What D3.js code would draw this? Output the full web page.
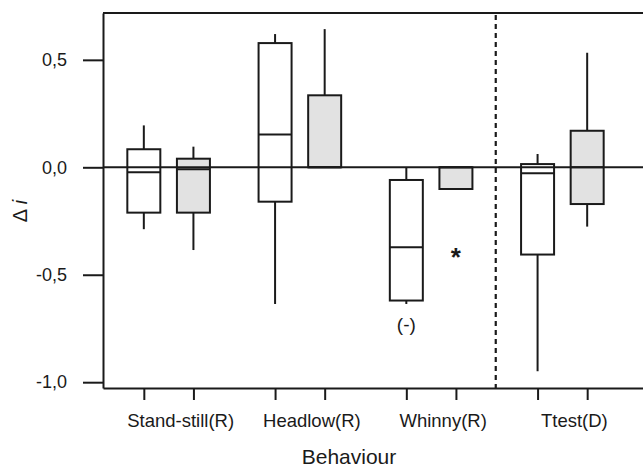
<!DOCTYPE html>
<html lang="en">
<head>
<meta charset="utf-8">
<title>Behaviour box plot</title>
<script src="https://cdn.jsdelivr.net/npm/d3@7"></script>
<style>
  body { margin: 0; background: #fff; }
  text { font-family: "Liberation Sans", Arial, sans-serif; fill: #1a1a1a; }
</style>
</head>
<body>
<script>
// categories along the x axis
var categories = ["Stand-still(R)", "Headlow(R)", "Whinny(R)", "Ttest(D)"];
var seriesNames = ["open", "shaded"];

// five-number summaries, one array per statistic (null = not drawn)
var openLow    = [-0.288, -0.636, -0.636, -0.949];
var openQ1     = [-0.211, -0.160, -0.620, -0.406];
var openMedian = [-0.023,  0.153, -0.372, -0.028];
var openQ3     = [ 0.084,  0.578, -0.059,  0.015];
var openHigh   = [ 0.195,  0.620,  0.000,  0.062];

var shadedLow    = [-0.385,  0.000,  null, -0.276];
var shadedQ1     = [-0.211,  0.000, -0.101, -0.171];
var shadedMedian = [-0.009,  0.000,  0.000,  0.000];
var shadedQ3     = [ 0.040,  0.335,  0.000,  0.170];
var shadedHigh   = [ 0.096,  0.643,  null,  0.533];

// outlier points and annotations
var outliers = [{cat: "Whinny(R)", series: "shaded", value: -0.405}];
var notes = [{cat: "Whinny(R)", series: "open", value: -0.73, text: "(-)"}];

var yTicks = [0.5, 0.0, -0.5, -1.0];
var dividerAfter = "Whinny(R)";

var w = 643, h = 469;
var pLeft = 103, pRight = 643, pTop = 13, pBottom = 388;
var boxW = 33;

var svg = d3.select("body").append("svg")
    .attr("width", w)
    .attr("height", h);

var y = d3.scaleLinear().domain([-1.027, 0.718]).range([pBottom, pTop]);
var xGroup = d3.scaleBand().domain(categories).range([pLeft, 628]);
var xSub = d3.scaleBand().domain(seriesNames).range([-49.6, 49.6]);
function bx(cat, s) { return xGroup(cat) + xGroup.bandwidth() / 2 + xSub(s) + xSub.bandwidth() / 2; }

// build rows for drawing
var boxes = [];
categories.forEach(function(c, i) {
  boxes.push({cat: c, series: "open", low: openLow[i], q1: openQ1[i], med: openMedian[i], q3: openQ3[i], high: openHigh[i]});
  boxes.push({cat: c, series: "shaded", low: shadedLow[i], q1: shadedQ1[i], med: shadedMedian[i], q3: shadedQ3[i], high: shadedHigh[i]});
});

var fmt = d3.formatLocale({decimal: ",", thousands: ".", grouping: [3], currency: ["", ""], minus: "-"}).format(".1f");

// y axis
var yAxis = svg.append("g")
    .attr("transform", "translate(" + pLeft + ",0)")
    .call(d3.axisLeft(y).tickValues(yTicks).tickFormat(fmt).tickSize(20).tickPadding(16).tickSizeOuter(0));
yAxis.selectAll("text").style("font-size", "18px").style("font-family", "'Liberation Sans', Arial, sans-serif").attr("fill", "#1a1a1a");

// x axis: one tick per box, no labels
var xAxis = svg.append("g")
    .attr("transform", "translate(0," + pBottom + ")")
    .call(d3.axisBottom(d3.scaleIdentity().domain([pLeft, pRight]))
      .tickValues(boxes.map(function(d) { return bx(d.cat, d.series); }))
      .tickFormat("").tickSize(12).tickSizeOuter(0));

svg.selectAll(".domain, .tick line").attr("stroke", "#1a1a1a").attr("stroke-width", 2);

// top frame
svg.append("line")
    .attr("x1", pLeft).attr("x2", pRight).attr("y1", pTop).attr("y2", pTop)
    .attr("stroke", "#1a1a1a").attr("stroke-width", 2);

// category labels
svg.selectAll(".cat")
    .data(categories).enter().append("text")
    .attr("class", "cat")
    .attr("x", function(d) { return xGroup(d) + xGroup.bandwidth() / 2 + 12; })
    .attr("y", 427)
    .attr("text-anchor", "middle")
    .style("font-size", "18.5px")
    .text(function(d) { return d; });

// axis titles
svg.append("text")
    .attr("x", 349).attr("y", 464)
    .attr("text-anchor", "middle")
    .style("font-size", "21px")
    .text("Behaviour");

var yl = svg.append("text")
    .attr("transform", "translate(27,211) rotate(-90)")
    .attr("text-anchor", "middle")
    .style("font-size", "20px");
yl.append("tspan").text("\u0394 ");
yl.append("tspan").style("font-style", "italic").text("i");

// divider
var divX = (bx(dividerAfter, "shaded") + bx(categories[categories.indexOf(dividerAfter) + 1], "open")) / 2 - 1;
svg.append("line")
    .attr("x1", divX).attr("x2", divX).attr("y1", pTop + 2).attr("y2", pBottom)
    .attr("stroke", "#1a1a1a").attr("stroke-width", 2.2)
    .attr("stroke-dasharray", "5,4");

// whiskers
var g = svg.append("g");
g.selectAll(".whiskHi")
    .data(boxes.filter(function(d) { return d.high !== null; })).enter().append("line")
    .attr("x1", function(d) { return bx(d.cat, d.series); })
    .attr("x2", function(d) { return bx(d.cat, d.series); })
    .attr("y1", function(d) { return y(d.q3); })
    .attr("y2", function(d) { return y(d.high); })
    .attr("stroke", "#1a1a1a").attr("stroke-width", 2);
g.selectAll(".whiskLo")
    .data(boxes.filter(function(d) { return d.low !== null; })).enter().append("line")
    .attr("x1", function(d) { return bx(d.cat, d.series); })
    .attr("x2", function(d) { return bx(d.cat, d.series); })
    .attr("y1", function(d) { return y(d.q1); })
    .attr("y2", function(d) { return y(d.low); })
    .attr("stroke", "#1a1a1a").attr("stroke-width", 2);

// boxes
g.selectAll("rect")
    .data(boxes).enter().append("rect")
    .attr("x", function(d) { return bx(d.cat, d.series) - boxW / 2; })
    .attr("y", function(d) { return y(d.q3); })
    .attr("width", boxW)
    .attr("height", function(d) { return y(d.q1) - y(d.q3); })
    .attr("fill", function(d) { return d.series === "open" ? "#ffffff" : "#e2e2e2"; })
    .attr("stroke", "#1a1a1a").attr("stroke-width", 2);

// medians
g.selectAll(".med")
    .data(boxes).enter().append("line")
    .attr("x1", function(d) { return bx(d.cat, d.series) - boxW / 2; })
    .attr("x2", function(d) { return bx(d.cat, d.series) + boxW / 2; })
    .attr("y1", function(d) { return y(d.med); })
    .attr("y2", function(d) { return y(d.med); })
    .attr("stroke", "#1a1a1a").attr("stroke-width", 2);

// zero reference line
svg.append("line")
    .attr("x1", pLeft).attr("x2", pRight).attr("y1", y(0)).attr("y2", y(0))
    .attr("stroke", "#1a1a1a").attr("stroke-width", 2);

// outliers
svg.selectAll(".out")
    .data(outliers).enter().append("text")
    .attr("x", function(d) { return bx(d.cat, d.series); })
    .attr("y", function(d) { return y(d.value) + 12; })
    .attr("text-anchor", "middle")
    .style("font-size", "26px")
    .style("font-weight", "bold")
    .text("*");

// notes
svg.selectAll(".note")
    .data(notes).enter().append("text")
    .attr("x", function(d) { return bx(d.cat, d.series); })
    .attr("y", function(d) { return y(d.value) + 7; })
    .attr("text-anchor", "middle")
    .style("font-size", "19px")
    .text(function(d) { return d.text; });
</script>
</body>
</html>
